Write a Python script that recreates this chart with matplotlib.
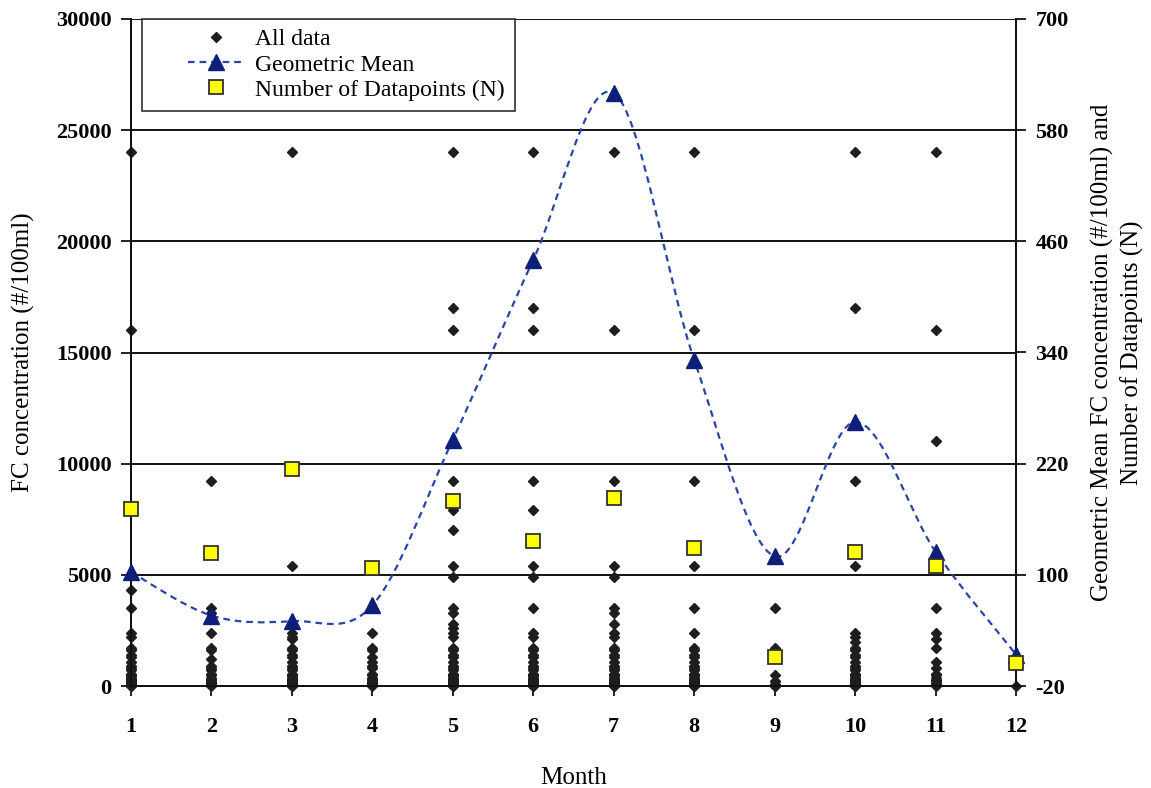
import matplotlib
matplotlib.use("Agg")
import matplotlib.pyplot as plt
from matplotlib.path import Path
from matplotlib.patches import PathPatch
from matplotlib.lines import Line2D
from matplotlib.legend_handler import HandlerLine2D

plt.rcParams['font.family'] = ['Liberation Serif', 'DejaVu Serif']
plt.rcParams['axes.unicode_minus'] = False

months = list(range(1, 13))

# FC concentrations (#/100ml) per month
low = [1600, 1400, 1300, 1100, 920, 790, 700, 540, 490, 460, 350, 330, 280,
       240, 220, 170, 140, 130, 110, 80, 70, 50, 40, 30, 20, 10]
m1 = [24000, 16000, 4300, 3500, 2400, 2200, 1700] + low
m2 = [9200, 3500, 3300, 2400, 1700, 1600, 1200, 920, 790, 700, 540, 490, 350,
      330, 240, 220, 170, 130, 110, 80, 50, 40, 20]
m3 = [24000, 5400, 2800, 2400, 2200, 2100, 1700] + low
m4 = [2400, 1700, 1600, 1300, 1100, 920, 790, 540, 490, 350, 330, 240, 220,
      170, 130, 110, 80, 50, 40, 20]
m5 = [24000, 17000, 16000, 9200, 7900, 7000, 5400, 4900, 3500, 3300, 2800,
      2600, 2400, 2200, 1700] + low
m6 = [24000, 17000, 16000, 9200, 7900, 5400, 4900, 3500, 2400, 2200, 1700] + low
m7 = [24000, 16000, 9200, 5400, 4900, 3500, 3300, 2800, 2400, 2200, 1700] + low
m8 = [24000, 16000, 9200, 5400, 3500, 2400, 1700] + low
m9 = [3500, 1700, 490, 220, 90, 20, 0]
m10 = [24000, 17000, 9200, 5400, 2400, 2200, 2000, 1700] + low
m11 = [24000, 16000, 11000, 3500, 2400, 2100, 1700, 1100, 790, 540, 490, 350,
       270, 220, 130, 80, 50, 20]
m12 = [0]
all_data = [m1, m2, m3, m4, m5, m6, m7, m8, m9, m10, m11, m12]

# right axis series
geo_mean = [103, 56, 50, 67, 246, 440, 620, 332, 120, 265, 125, 14]
n_points = [171, 124, 214, 107, 180, 137, 183, 129, 11, 125, 109, 5]

fig = plt.figure(figsize=(11.51, 7.88), dpi=100)
ax = fig.add_axes([131/1151, 1 - 686/788, 885/1151, 667/788])
ax2 = ax.twinx()

xs, ys = [], []
for m, vals in zip(months, all_data):
    for v in vals:
        xs.append(m)
        ys.append(v)
ax.plot(xs, ys, linestyle='none', marker='D', markersize=5.5, color='#1e1e1e',
        clip_on=False, zorder=3)

ax.set_xlim(1, 12)
ax.set_ylim(0, 30000)
ax.set_yticks(range(0, 30001, 5000))
ax.set_xticks(months)
ax.grid(axis='y', color='#111111', linewidth=1.4)
ax.set_axisbelow(True)

ax2.set_ylim(-20, 700)
ax2.set_yticks(range(-20, 701, 120))

# Excel-style smoothed line through the geometric means (Bezier path)
pts = list(zip(months, geo_mean))
verts = [pts[0]]
codes = [Path.MOVETO]
for i in range(len(pts) - 1):
    p0 = pts[i - 1] if i > 0 else pts[i]
    p1 = pts[i]
    p2 = pts[i + 1]
    p3 = pts[i + 2] if i + 2 < len(pts) else pts[i + 1]
    c1 = (p1[0] + (p2[0] - p0[0]) / 6, p1[1] + (p2[1] - p0[1]) / 6)
    c2 = (p2[0] - (p3[0] - p1[0]) / 6, p2[1] - (p3[1] - p1[1]) / 6)
    verts += [c1, c2, p2]
    codes += [Path.CURVE4] * 3
curve = PathPatch(Path(verts, codes), fill=False, edgecolor='#2a45a8',
                  linewidth=1.6, linestyle=(0, (3, 2.2)), transform=ax2.transData,
                  zorder=4)
ax2.add_patch(curve)
ax2.plot(months, geo_mean, linestyle='none', marker='^', markersize=11,
         color='#0d1f78', clip_on=False, zorder=5)
ax2.plot(months, n_points, linestyle='none', marker='s', markersize=10,
         markerfacecolor='#ffff00', markeredgecolor='#333333',
         markeredgewidth=1.3, clip_on=False, zorder=6)

for a in (ax, ax2):
    for s in a.spines.values():
        s.set_color('#111111')
        s.set_linewidth(1.4)
    a.spines['top'].set_visible(False)
    a.tick_params(length=7, width=1.3, color='#111111', direction='out',
                  labelsize=16, pad=7)
ax.tick_params(axis='x', pad=15)
for lab in ax.get_xticklabels() + ax.get_yticklabels() + ax2.get_yticklabels():
    lab.set_fontweight('bold')

ax.set_xlabel('Month', fontsize=18, labelpad=22)
ax.set_ylabel('FC concentration (#/100ml)', fontsize=18, labelpad=15)
ax2.set_ylabel('Geometric Mean FC concentration (#/100ml) and\nNumber of Datapoints (N)',
               fontsize=18, labelpad=16, linespacing=1.35)

handles = [
    Line2D([], [], linestyle='none', marker='D', markersize=5.5, color='#1e1e1e'),
    Line2D([], [], linestyle=(0, (3, 2.2)), linewidth=1.6, color='#2a45a8',
           marker='^', markersize=11, markerfacecolor='#0d1f78',
           markeredgecolor='#0d1f78'),
    Line2D([], [], linestyle='none', marker='s', markersize=10,
           markerfacecolor='#ffff00', markeredgecolor='#333333', markeredgewidth=1.3),
]
labels = ['All data', 'Geometric Mean', 'Number of Datapoints (N)']
leg = ax2.legend(handles, labels, loc='upper left', bbox_to_anchor=(0.012, 1.0),
                 fontsize=17, frameon=True, fancybox=False, borderpad=0.42,
                 handlelength=3.9, handletextpad=0.5, labelspacing=0.15,
                 borderaxespad=0, handler_map={Line2D: HandlerLine2D(xpad=1.55)})
leg.get_frame().set_edgecolor('#111111')
leg.get_frame().set_linewidth(1.3)
leg.set_zorder(10)

fig.savefig('out.png', dpi=100)
